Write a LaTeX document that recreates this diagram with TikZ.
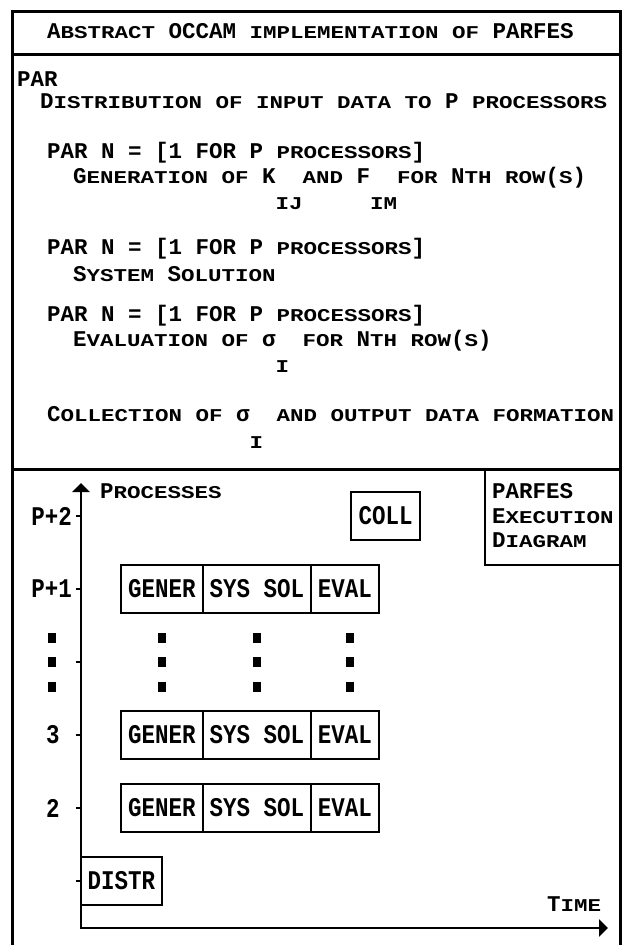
\documentclass[tikz,border=0pt]{standalone}
\usepackage{fontspec}
\setmonofont{Liberation Mono}
\usepackage{graphicx}
\usetikzlibrary{arrows.meta}
\newcommand\smcap[1]{\scalebox{1}[0.8]{#1}}
\newcommand\tallcap[1]{\scalebox{1}[1.2]{#1}}
\begin{document}
\begin{tikzpicture}[x=1pt,y=-1pt,
  every node/.style={inner sep=0pt,outer sep=0pt},
  pixfont/.style={font=\ttfamily\bfseries\fontsize{22.5}{27}\selectfont},
  lst/.style={pixfont,anchor=base west},
  procbox/.style={pixfont,draw,line width=2.6pt,minimum height=48pt},
  legendbox/.style={draw,line width=2.6pt,anchor=north west},
  frameline/.style={line width=3pt},
  axisline/.style={line width=2.6pt},
  tickmark/.style={line width=2.6pt},
  dotbox/.style={fill=black,minimum width=8pt,minimum height=10pt}
]
\useasboundingbox (0,0) rectangle (624,945);
% frame and separators
\coordinate (fbl) at (12,952);
\coordinate (ftl) at (12,11);
\coordinate (ftr) at (620,11);
\coordinate (fbr) at (620,952);
\draw[frameline] (fbl) -- (ftl) -- (ftr) -- (fbr);
\coordinate (s1l) at (12,54);
\coordinate (s1r) at (620,54);
\draw[frameline] (s1l) -- (s1r);
\coordinate (s2l) at (12,469);
\coordinate (s2r) at (620,469);
\draw[frameline] (s2l) -- (s2r);

% top listing
\node[lst] (title) at (47,38.5) {A\smcap{BSTRACT} OCCAM \smcap{IMPLEMENTATION OF} PARFES};
\node[lst] (par) at (17,86.5) {PAR};
\node[lst] (dist) at (40,108.5) {D\smcap{ISTRIBUTION OF INPUT DATA TO} P \smcap{PROCESSORS}};
\node[lst] (parn1) at (47,158.5) {PAR N = [1 FOR P \smcap{PROCESSORS}]};
\node[lst] (gen) at (73,183.5) {G\smcap{ENERATION OF} K~~\smcap{AND} F~~\smcap{FOR} N\smcap{TH ROW}(\smcap{S})};
\node[lst] (subij) at (275.5,209) {\smcap{IJ}};
\node[lst] (subim) at (370,209) {\smcap{IM}};
\node[lst] (parn2) at (47,254.5) {PAR N = [1 FOR P \smcap{PROCESSORS}]};
\node[lst] (syssol) at (73,281.5) {S\smcap{YSTEM} S\smcap{OLUTION}};
\node[lst] (parn3) at (47,321.5) {PAR N = [1 FOR P \smcap{PROCESSORS}]};
\node[lst] (evalt) at (73,346.5) {E\smcap{VALUATION OF} σ~~\smcap{FOR} N\smcap{TH ROW}(\smcap{S})};
\node[lst] (subi1) at (275.5,372.5) {\smcap{I}};
\node[lst] (coll) at (47,421.5) {C\smcap{OLLECTION OF} σ~~\smcap{AND OUTPUT DATA FORMATION}};
\node[lst] (subi2) at (249.5,448) {\smcap{I}};

% legend box
\node[legendbox,minimum width=135pt,minimum height=96pt] (legend) at (485,469) {};
\node[lst] (lg1) at (492,498.5) {PARFES};
\node[lst] (lg2) at (492,523.5) {E\smcap{XECUTION}};
\node[lst] (lg3) at (492,547.5) {D\smcap{IAGRAM}};

% axes
\coordinate (origin) at (81,928);
\coordinate (ytip) at (81,483);
\coordinate (xtip) at (608,928);
\draw[axisline,{Triangle[width=17pt,length=9pt]}-{Triangle[width=17pt,length=9pt]}] (ytip) -- (origin) -- (xtip);
\node[lst] (ylabel) at (100,498.5) {P\smcap{ROCESSES}};
\node[lst] (xlabel) at (547,911.5) {T\smcap{IME}};

% ticks
\foreach \y/\n in {516/p2,589/p1,662/pd,735/r3,808/r2,881/rd}{
  \coordinate (tick\n) at (75.5,\y);
  \coordinate (tickend\n) at (81,\y);
  \draw[tickmark] (tick\n) -- (tickend\n);
}

% axis labels
\node[pixfont,anchor=east] (lp2) at (72,516) {\tallcap{P+2}};
\node[pixfont,anchor=east] (lp1) at (72,589) {\tallcap{P+1}};
\node[pixfont] (l3) at (53,735) {\tallcap{3}};
\node[pixfont] (l2) at (53,808) {\tallcap{2}};

% dots
\foreach \x/\n in {52/a,162/b,257/c,350/d}{
  \foreach \y/\m in {637.5/1,662/2,686.5/3}{
    \node[dotbox] (dot\n\m) at (\x,\y) {};
  }
}

% process boxes
\node[procbox,minimum width=69pt] (collbox) at (385.5,516) {\tallcap{COLL}};
\foreach \y/\r in {589/p1,735/r3,808/r2}{
  \node[procbox,minimum width=82pt] (gen\r) at (162,\y) {\tallcap{GENER}};
  \node[procbox,minimum width=108pt] (sys\r) at (257,\y) {\tallcap{SYS~SOL}};
  \node[procbox,minimum width=68pt] (eval\r) at (345,\y) {\tallcap{EVAL}};
}
\node[procbox,minimum width=81pt] (distr) at (121.5,881) {\tallcap{DISTR}};
\end{tikzpicture}
\end{document}
